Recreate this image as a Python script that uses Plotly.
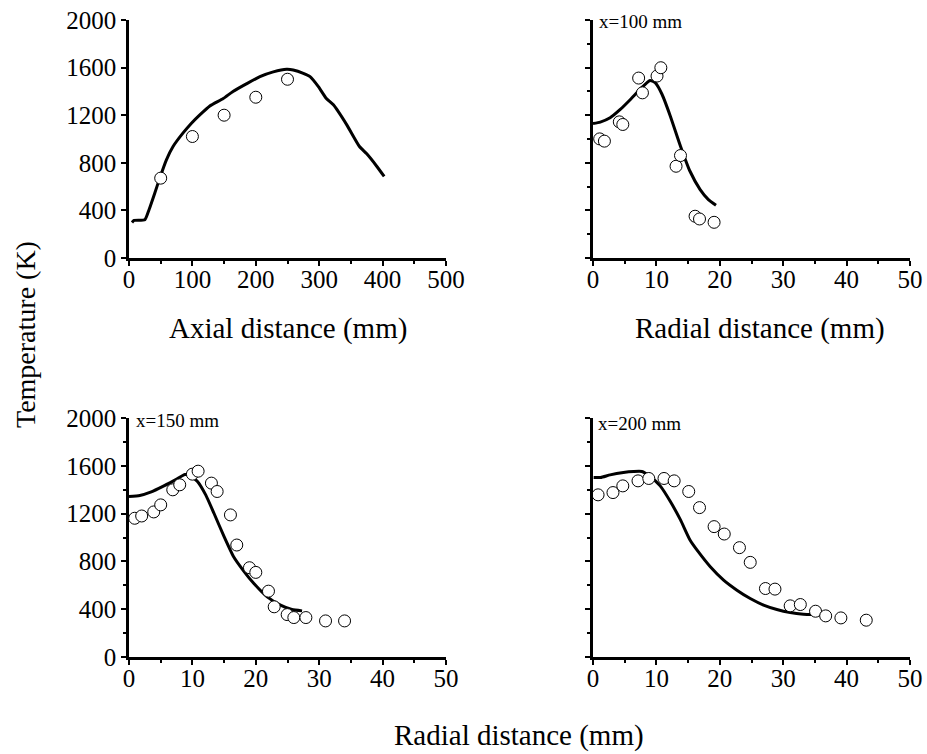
import plotly.graph_objects as go

# ---- Data ----
# Panel a: axial profile
axial_line_x = [4.7, 8, 25, 31.6, 40.6, 48.5, 59, 69.5, 85, 98.5, 111.7, 127.5, 148.6, 164, 185,
                206.5, 227.6, 248.7, 259, 275, 285.6, 298.7, 310.9, 322.4, 343.5, 363.5, 375, 391, 402.5]
axial_line_y = [299, 316, 322, 406, 545, 671, 825, 937, 1049, 1133, 1203, 1278, 1340, 1399, 1463,
                1524, 1564, 1586, 1580, 1552, 1524, 1440, 1343, 1287, 1119, 937, 875, 769, 685]
axial_pts_x = [50, 100, 150, 200, 250]
axial_pts_y = [671, 1021, 1200, 1351, 1502]

# Panel b: x=100 mm
r100_line_x = [0, 1.15, 2.7, 4.3, 5.9, 7.5, 9.0, 9.8, 10.9, 12.2, 13.8, 15.3, 16.9, 18.2, 19.4]
r100_line_y = [1130, 1142, 1178, 1248, 1332, 1422, 1492, 1473, 1374, 1192, 940, 729, 575, 491, 443]
r100_pts_x = [1.05, 1.8, 4.15, 4.7, 7.2, 7.8, 10.1, 10.7, 13.1, 13.8, 16.1, 16.8, 19.1]
r100_pts_y = [1001, 982, 1144, 1122, 1512, 1388, 1529, 1599, 771, 861, 351, 328, 300]

# Panel c: x=150 mm
r150_line_x = [0, 1.7, 3.4, 5.5, 7.6, 8.8, 9.7, 10.8, 12.1, 13.4, 15.0, 16.5, 18.1, 19.7, 21.8, 23.9, 25.7, 27.3]
r150_line_y = [1343, 1351, 1379, 1432, 1491, 1527, 1516, 1469, 1357, 1203, 1007, 839, 719, 615, 503, 434, 397, 386]
r150_pts_x = [0.9, 2.0, 3.9, 5.0, 6.9, 8.0, 10.0, 10.9, 13.0, 13.9, 16.0, 17.0, 19.0, 20.0,
              22.0, 22.9, 24.95, 26.0, 27.9, 31.0, 34.0]
r150_pts_y = [1161, 1180, 1214, 1273, 1399, 1441, 1530, 1555, 1455, 1385, 1189, 937, 747, 708,
              551, 420, 355, 330, 330, 302, 302]

# Panel d: x=200 mm
r200_line_x = [0.1, 1.2, 2.7, 4.8, 6.4, 7.7, 9.0, 10.6, 12.2, 13.8, 15.3, 16.6, 18.5, 20.6, 22.7,
               24.8, 26.9, 29.0, 31.1, 33.2, 34.8]
r200_line_y = [1502, 1502, 1524, 1544, 1552, 1552, 1510, 1432, 1301, 1147, 979, 881, 755, 643, 559,
               489, 434, 397, 372, 358, 355]
r200_pts_x = [0.8, 3.15, 4.7, 7.1, 8.8, 11.2, 12.8, 15.1, 16.8, 19.1, 20.7, 23.1, 24.8, 27.2, 28.7,
              31.1, 32.7, 35.1, 36.7, 39.1, 43.1]
r200_pts_y = [1357, 1376, 1432, 1474, 1494, 1494, 1474, 1385, 1250, 1091, 1029, 915, 792, 573, 568,
              428, 439, 383, 344, 327, 308]

panel_labels = ["x=100 mm", "x=150 mm", "x=200 mm"]
y_ticks = [0, 400, 800, 1200, 1600, 2000]

FONT = "Liberation Serif, Times New Roman, serif"
W, H = 927, 754

fig = go.Figure()

panels = [
    (axial_line_x, axial_line_y, axial_pts_x, axial_pts_y, "x", "y"),
    (r100_line_x, r100_line_y, r100_pts_x, r100_pts_y, "x2", "y2"),
    (r150_line_x, r150_line_y, r150_pts_x, r150_pts_y, "x3", "y3"),
    (r200_line_x, r200_line_y, r200_pts_x, r200_pts_y, "x4", "y4"),
]
for lx, ly, px, py, xa, ya in panels:
    fig.add_trace(go.Scatter(x=lx, y=ly, mode="lines", line=dict(color="black", width=3, shape="spline", smoothing=0.5),
                             xaxis=xa, yaxis=ya, showlegend=False, hoverinfo="skip", cliponaxis=False))
    fig.add_trace(go.Scatter(x=px, y=py, mode="markers",
                             marker=dict(symbol="circle", size=12, color="white", line=dict(color="black", width=1)),
                             xaxis=xa, yaxis=ya, showlegend=False, cliponaxis=False))

xdom_l = [129 / W, 446 / W]
xdom_r = [593 / W, 910 / W]
ydom_t = [1 - 258 / H, 1 - 20 / H]
ydom_b = [1 - 657 / H, 1 - 418 / H]

def xax(dom, anchor, rng, dtick, mdtick):
    return dict(domain=dom, anchor=anchor, range=rng, dtick=dtick, tick0=0, automargin=False,
                showline=True, linecolor="black", linewidth=2.5, mirror=False,
                showgrid=False, zeroline=False, ticks="outside", ticklen=5, tickwidth=2,
                ticklabelstandoff=-8,
                tickcolor="black", tickfont=dict(family=FONT, size=25, color="black"),
                minor=dict(dtick=mdtick, tick0=0, ticks="outside", ticklen=3, tickwidth=2, tickcolor="black"))

def yax(dom, anchor, labels, minor):
    d = dict(domain=dom, anchor=anchor, range=[0, 2000], tickvals=y_ticks, automargin=False,
             showline=True, linecolor="black", linewidth=2.5, showgrid=False, zeroline=False,
             ticks="outside", ticklen=5, tickwidth=2, tickcolor="black",
             showticklabels=labels, tickfont=dict(family=FONT, size=25, color="black"))
    if minor:
        d["minor"] = dict(dtick=200, tick0=0, ticks="outside", ticklen=3, tickwidth=2, tickcolor="black")
    return d

fig.update_layout(
    width=W, height=H, margin=dict(l=0, r=0, t=0, b=0, autoexpand=False),
    paper_bgcolor="white", plot_bgcolor="white",
    font=dict(family=FONT, color="black"),
    xaxis=xax(xdom_l, "y", [0, 500], 100, 50),
    yaxis=yax(ydom_t, "x", True, False),
    xaxis2=xax(xdom_r, "y2", [0, 50], 10, 5),
    yaxis2=yax(ydom_t, "x2", False, True),
    xaxis3=xax(xdom_l, "y3", [0, 50], 10, 5),
    yaxis3=yax(ydom_b, "x3", True, True),
    xaxis4=xax(xdom_r, "y4", [0, 50], 10, 5),
    yaxis4=yax(ydom_b, "x4", False, True),
)

annos = [
    dict(text="Axial distance (mm)", x=288 / W, y=1 - 328 / H, size=29),
    dict(text="Radial distance (mm)", x=760 / W, y=1 - 328 / H, size=29),
    dict(text="Radial distance (mm)", x=519 / W, y=1 - 735 / H, size=29),
]
for a in annos:
    fig.add_annotation(text=a["text"], x=a["x"], y=a["y"], xref="paper", yref="paper",
                       showarrow=False, xanchor="center", yanchor="middle",
                       font=dict(family=FONT, size=a["size"], color="black"))
fig.add_annotation(text="Temperature (K)", x=25 / W, y=1 - 335 / H, xref="paper", yref="paper",
                   showarrow=False, textangle=-90, xanchor="center", yanchor="middle",
                   font=dict(family=FONT, size=28, color="black"))

for txt, xp, yp in [(panel_labels[0], 597, 22), (panel_labels[1], 134, 420), (panel_labels[2], 596, 423)]:
    fig.add_annotation(text=txt, x=xp / W, y=1 - yp / H, xref="paper", yref="paper",
                       showarrow=False, xanchor="left", yanchor="middle",
                       font=dict(family=FONT, size=19, color="black"))

fig.write_html("out.html")
